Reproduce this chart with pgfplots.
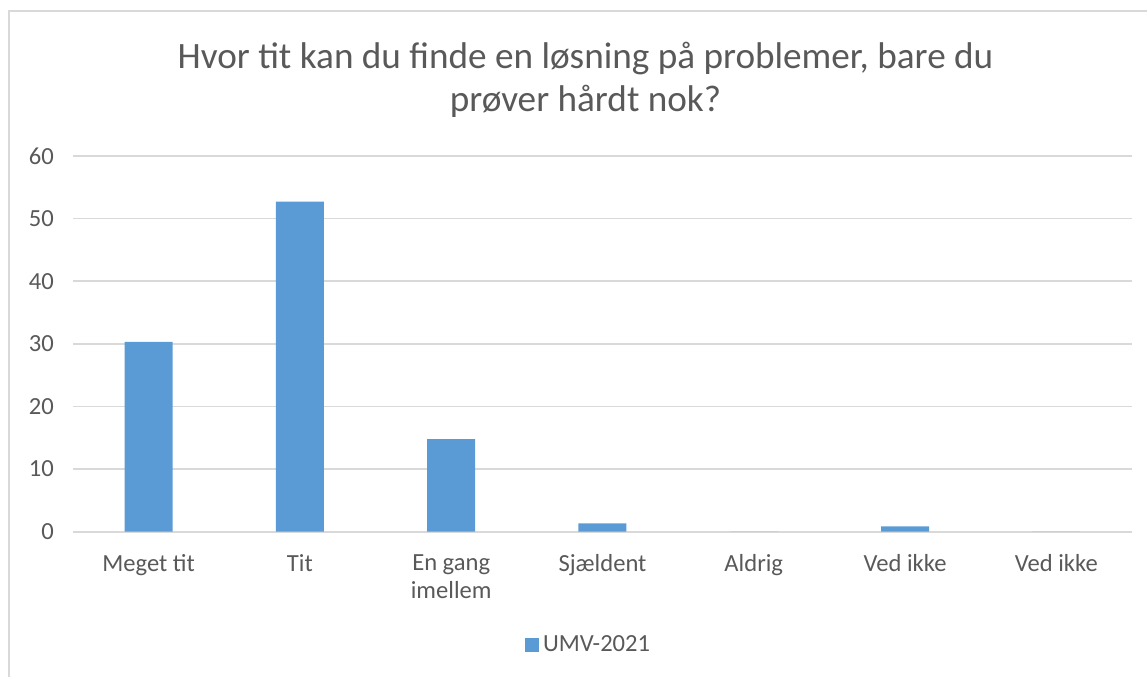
\documentclass[border=0pt]{standalone}
\usepackage{pgfplots}
\pgfplotsset{compat=1.18}
\usepackage{fontspec}
\setmainfont{Carlito}
\definecolor{txt}{HTML}{595959}
\definecolor{gridc}{HTML}{D9D9D9}
\definecolor{barc}{HTML}{5B9BD5}
\begin{document}
\begin{tikzpicture}
\useasboundingbox (0,0) rectangle (573.5pt,338.5pt);
\draw[gridc, line width=0.8pt] (4.5pt,0) -- (4.5pt,333pt) -- (573.5pt,333pt);
\node[align=center, text=txt, font=\fontsize{18.6}{21.5}\selectfont] at (292.75pt,298.5pt) {Hvor tit kan du finde en løsning på problemer, bare du\\prøver hårdt nok?};
\begin{axis}[at={(36.5pt,72.65pt)}, anchor=south west, scale only axis,
  width=529.5pt, height=187.85pt,
  ymin=0, ymax=60, ytick={0,10,...,60},
  xmin=-0.5, xmax=6.5, xtick={0,...,6},
  xticklabels={Meget tit,Tit,{En gang\\imellem},Sjældent,Aldrig,Ved ikke,Ved ikke},
  axis line style={draw=none}, major tick length=0pt,
  ymajorgrids, grid style={gridc, line width=0.8pt},
  ticklabel style={text=txt, font=\fontsize{12.3}{14}\selectfont},
  /pgf/number format/assume math mode=true,
  xticklabel style={align=center, yshift=-8pt},
  yticklabel style={xshift=-6pt},
  ybar, bar width=24pt,
  legend style={at={(0.488,-0.3016)}, anchor=center, draw=none, fill=none,
    font=\fontsize{12.3}{14}\selectfont, text=txt},
  legend image code/.code={\fill[barc] (0pt,-3.4pt) rectangle (6.85pt,3.4pt);},
]
\addplot[fill=barc, draw=none] coordinates {(0,30.3) (1,52.7) (2,14.8) (3,1.35) (4,0) (5,0.85) (6,0)};
\addlegendentry{UMV-2021}
\end{axis}
\end{tikzpicture}
\end{document}
